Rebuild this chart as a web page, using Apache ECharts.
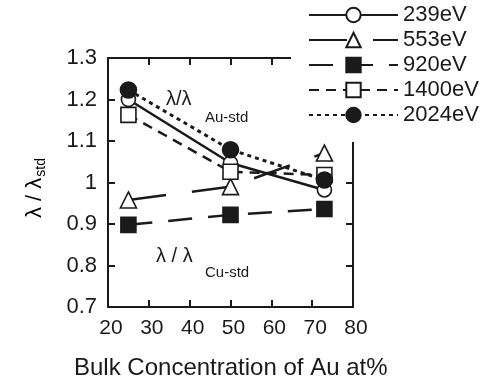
<!DOCTYPE html>
<html><head><meta charset="utf-8">
<script src="https://cdn.jsdelivr.net/npm/echarts@6/dist/echarts.min.js"></script>
<style>html,body{margin:0;padding:0;background:#fff}#c{width:491px;height:388px}</style>
</head><body><div id="c"></div>
<script>
const xValues = [25, 50, 73];
const seriesNames = ['239eV', '553eV', '920eV', '1400eV', '2024eV'];
const v239 = [1.20, 1.047, 0.982];
const v553 = [0.958, 0.990, 1.071];
const v920 = [0.898, 0.922, 0.936];
const v1400 = [1.163, 1.026, 1.018];
const v2024 = [1.223, 1.079, 1.006];
const xTicks = [20, 30, 40, 50, 60, 70, 80];
const yTicks = [0.7, 0.8, 0.9, 1, 1.1, 1.2, 1.3];

const FONT = "'Liberation Sans', Arial, sans-serif";
const C = '#1a1a1a';
function pts(v){ return xValues.map((x,i)=>[x, v[i]]); }
function mk(name, data, symbol, fill, size, dash, width){
  return {
    name, type:'line', data: pts(data), symbol, symbolSize:size,
    itemStyle:{color: fill, borderColor: C, borderWidth: 1.6},
    lineStyle:{color:C, width: width||2.5, type: dash},
    z: 3
  };
}
const chart = echarts.init(document.getElementById('c'));
const axisCommon = {
  axisLine:{show:true, lineStyle:{color:C, width:2}},
  axisTick:{show:true, inside:true, length:7, lineStyle:{color:C, width:2}},
  splitLine:{show:false}
};
chart.setOption({
  animation:false,
  backgroundColor:'#fff',
  grid:{left:108, right:138, top:58, bottom:81},
  xAxis:[
    Object.assign({type:'value', min:20, max:80, interval:10, position:'bottom',
      axisLabel:{fontFamily:FONT, fontSize:21, color:C, margin:11, padding:[0,0,0,6],
        formatter: v => xTicks.includes(v) ? String(v) : ''}}, axisCommon),
    Object.assign({type:'value', min:20, max:80, interval:10, position:'top',
      axisLabel:{show:false}}, axisCommon)
  ],
  yAxis:[
    Object.assign({type:'value', min:0.7, max:1.3, interval:0.1, position:'left',
      axisLabel:{fontFamily:FONT, fontSize:22, color:C, margin:11,
        formatter: v => { const t = yTicks.find(k=>Math.abs(k-v)<1e-6); return t===undefined?'':String(t); }}}, axisCommon),
    Object.assign({type:'value', min:0.7, max:1.3, interval:0.1, position:'right',
      axisLabel:{show:false}}, axisCommon)
  ],
  legend:{
    left:291, top:0, orient:'vertical', align:'left',
    backgroundColor:'#fff', padding:[4,30,16,17],
    itemWidth:89, itemHeight:18, itemGap:3,
    textStyle:{fontFamily:FONT, fontSize:22, color:C},
    data: seriesNames, z: 10
  },
  series:[
    mk(seriesNames[0], v239, 'circle', '#fff', 14, 'solid', 2.5),
    mk(seriesNames[1], v553, 'triangle', '#fff', 16, [38,26], 2.5),
    mk(seriesNames[2], v920, 'rect', C, 15, [24,16], 2.5),
    mk(seriesNames[3], v1400, 'rect', '#fff', 15, [10,7], 2.5),
    mk(seriesNames[4], v2024, 'circle', C, 16, [4,4], 3)
  ],
  graphic:[
    {type:'text', left:166, top:89, style:{text:'λ/λ', font:'20px '+FONT, fill:C}},
    {type:'text', left:205, top:110, style:{text:'Au-std', font:'15px '+FONT, fill:C}},
    {type:'text', left:156, top:246, style:{text:'λ / λ', font:'20px '+FONT, fill:C}},
    {type:'text', left:205, top:265, style:{text:'Cu-std', font:'15px '+FONT, fill:C}},
    {type:'text', x:35, y:188, rotation:Math.PI/2,
      style:{text:'{a|λ / λ}{s|std}', textAlign:'center', textVerticalAlign:'middle',
        rich:{a:{font:'22px '+FONT, color:C}, s:{font:'14px '+FONT, color:C, padding:[12,0,0,1]}}}},
    {type:'text', left:74, top:356, style:{text:'Bulk Concentration of Au at%', font:'24px '+FONT, fill:C}}
  ]
});
</script></body></html>
